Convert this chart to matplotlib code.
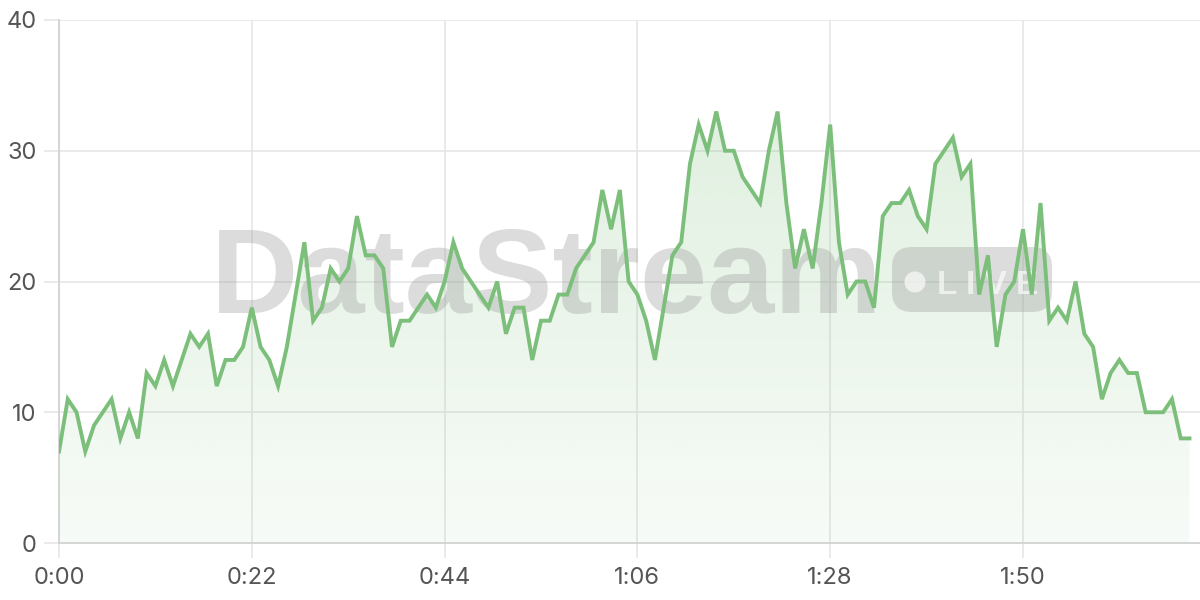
import numpy as np
import matplotlib
matplotlib.use("Agg")
import matplotlib.pyplot as plt
from matplotlib.patches import FancyBboxPatch, Ellipse

# one reading per minute, 0:00 .. 2:09
minutes = list(range(130))
values = [
    7, 11, 10, 7, 9, 10, 11, 8, 10, 8,
    13, 12, 14, 12, 14, 16, 15, 16, 12, 14,
    14, 15, 18, 15, 14, 12, 15, 19, 23, 17,
    18, 21, 20, 21, 25, 22, 22, 21, 15, 17,
    17, 18, 19, 18, 20, 23, 21, 20, 19, 18,
    20, 16, 18, 18, 14, 17, 17, 19, 19, 21,
    22, 23, 27, 24, 27, 20, 19, 17, 14, 18,
    22, 23, 29, 32, 30, 33, 30, 30, 28, 27,
    26, 30, 33, 26, 21, 24, 21, 26, 32, 23,
    19, 20, 20, 18, 25, 26, 26, 27, 25, 24,
    29, 30, 31, 28, 29, 19, 22, 15, 19, 20,
    24, 19, 26, 17, 18, 17, 20, 16, 15, 11,
    13, 14, 13, 13, 10, 10, 10, 11, 8, 8,
]
x_ticks = [0, 22, 44, 66, 88, 110]
x_labels = [f"{m // 60}:{m % 60:02d}" for m in x_ticks]
y_ticks = [0, 10, 20, 30, 40]

line_color = "#7bbf7b"
grid_color = "#e6e6e6"
text_color = "#555555"

plt.rcParams["font.family"] = ["Inter", "DejaVu Sans"]

fig = plt.figure(figsize=(12, 6), dpi=100)
ax = fig.add_axes([59 / 1200, 57 / 600, 1141 / 1200, 523 / 600])

# gradient fill under the line
poly = ax.fill_between(minutes, values, 0, color="none", lw=0)
grad = np.zeros((256, 1, 4))
grad[:, 0, :3] = matplotlib.colors.to_rgb(line_color)
grad[:, 0, 3] = np.linspace(0.06, 0.27, 256)
img = ax.imshow(grad, origin="lower", aspect="auto",
                extent=[0, 130.2, 0, 40], zorder=1, interpolation="bilinear")
img.set_clip_path(poly.get_paths()[0], transform=ax.transData)

ax.plot(minutes, values, color=line_color, lw=2.8, zorder=4,
        solid_joinstyle="miter")

ax.set_xlim(0, 130.2)
ax.set_ylim(0, 40)
ax.set_xticks(x_ticks, x_labels)
ax.set_yticks(y_ticks)
ax.grid(True, color=grid_color, lw=1.2, zorder=0)
ax.set_axisbelow(True)
for side in ["top", "right"]:
    ax.spines[side].set_visible(False)
for side in ["left", "bottom"]:
    ax.spines[side].set_color("#d2d2d2")
    ax.spines[side].set_linewidth(1.3)
ax.tick_params(axis="both", length=11, width=1.2, color=grid_color,
               labelsize=17, labelcolor=text_color)
ax.tick_params(axis="y", pad=5)
ax.tick_params(axis="x", pad=6)

# watermark
ax.text(211 / 1200, 1 - 313 / 600, "DataStream", transform=fig.transFigure,
        family="Liberation Sans", weight="bold", fontsize=87,
        color="#999999", alpha=0.34, ha="left", va="baseline", zorder=3)
badge = FancyBboxPatch((892 / 1200, 1 - 312 / 600), 160 / 1200, 65 / 600,
                       boxstyle="round,pad=0,rounding_size=0.0167",
                       mutation_aspect=2, transform=fig.transFigure,
                       facecolor="#999999", edgecolor="none", alpha=0.34,
                       zorder=3)
ax.add_artist(badge)
dot = Ellipse((915 / 1200, 1 - 282 / 600), 21 / 1200, 21 / 600,
              transform=fig.transFigure, facecolor="white", edgecolor="none",
              alpha=0.65, zorder=3.1)
ax.add_artist(dot)
ax.text(937 / 1200, 1 - 294 / 600, "L I V E", transform=fig.transFigure,
        family="Liberation Sans", weight="bold", fontsize=24, color="white",
        alpha=0.65, ha="left", va="baseline", zorder=3.1)

fig.savefig("out.png", dpi=100)
